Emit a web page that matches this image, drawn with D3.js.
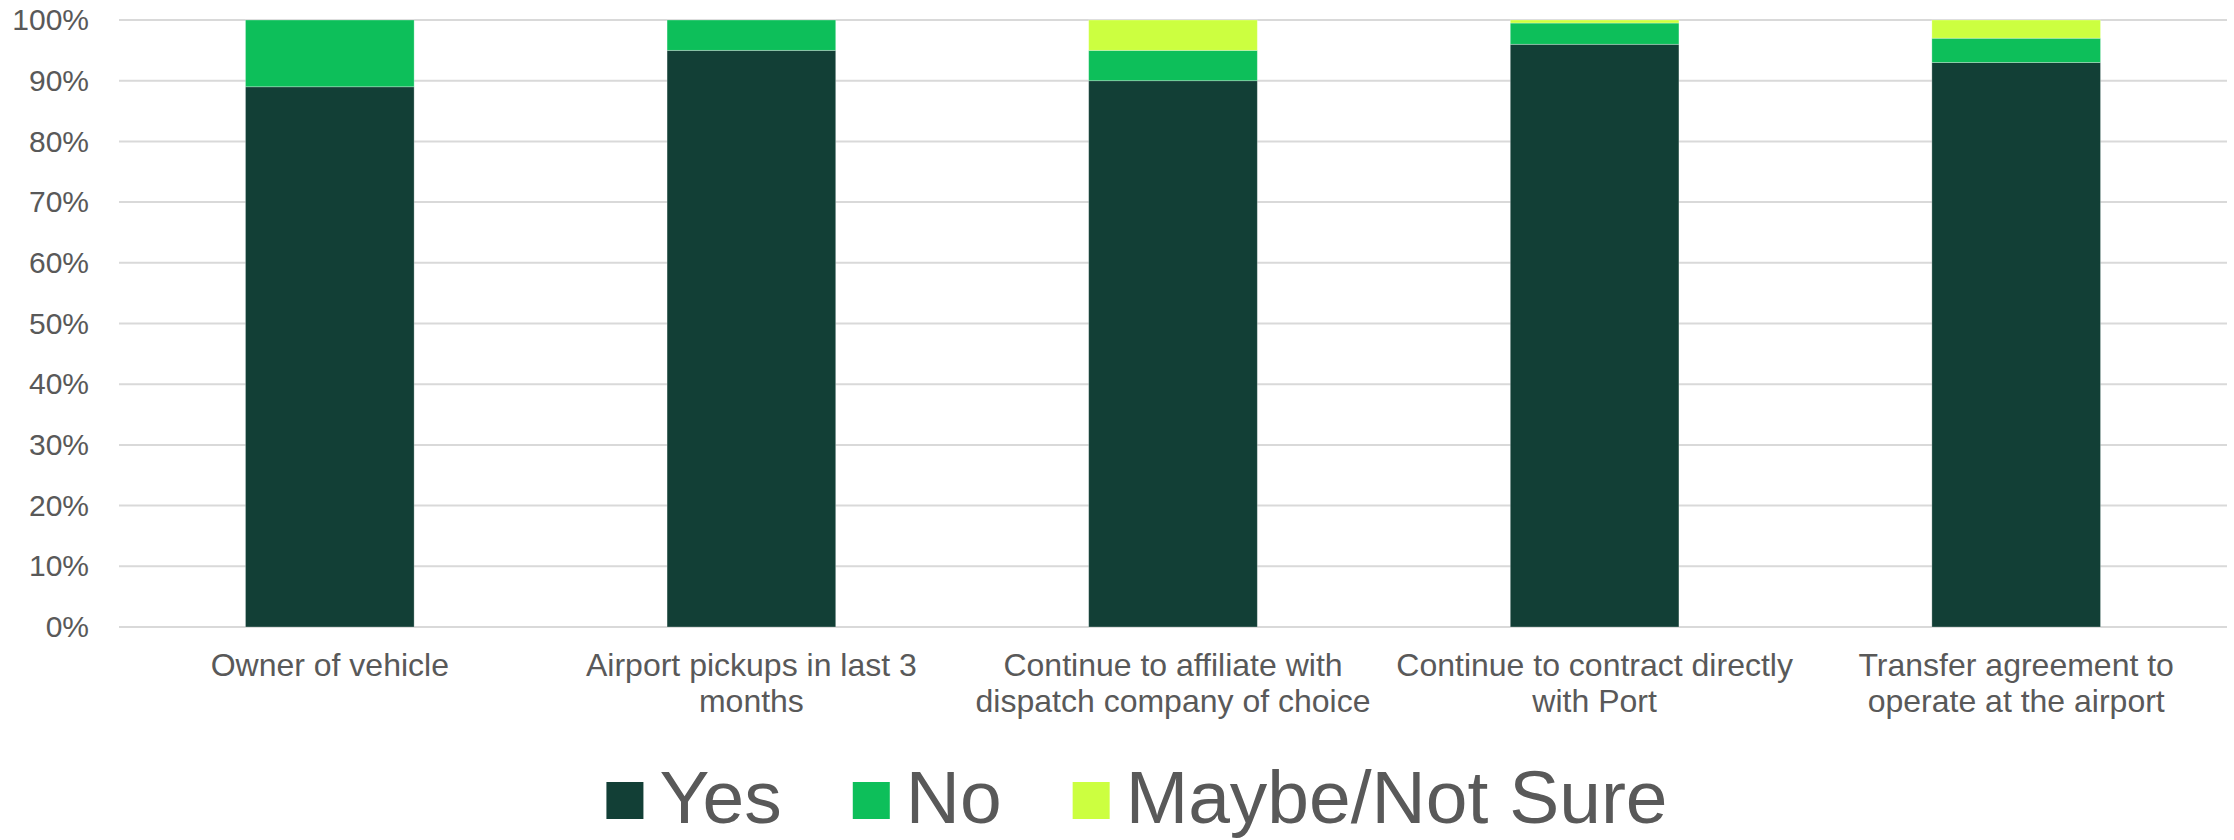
<!DOCTYPE html>
<html>
<head>
<meta charset="utf-8">
<script src="https://cdn.jsdelivr.net/npm/d3@7"></script>
<style>
  html, body { margin: 0; padding: 0; background: #ffffff; }
  svg { display: block; font-family: "Liberation Sans", Arial, sans-serif; }
</style>
</head>
<body>
<svg id="chart" width="2234" height="840"></svg>
<script>
// Survey questions (line breaks mark where each label wraps)
const categories = [
  "Owner of vehicle",
  "Airport pickups in last 3\nmonths",
  "Continue to affiliate with\ndispatch company of choice",
  "Continue to contract directly\nwith Port",
  "Transfer agreement to\noperate at the airport"
];
const seriesNames = ["Yes", "No", "Maybe/Not Sure"];
const yesValues   = [89, 95, 90, 96, 93];
const noValues    = [11, 5, 5, 3.5, 4];
const maybeValues = [0, 0, 5, 0.5, 3];
const yTicks = [0, 10, 20, 30, 40, 50, 60, 70, 80, 90, 100];
const colors = ["#123f36", "#0dbf5a", "#ccff40"];

const W = 2234, H = 840;
const margin = { top: 20, right: 7, bottom: 213, left: 119 };
const innerW = W - margin.left - margin.right;
const innerH = H - margin.top - margin.bottom;

const svg = d3.select("#chart");
const g = svg.append("g").attr("transform", `translate(${margin.left},${margin.top})`);

const x = d3.scaleBand().domain(categories).range([0, innerW]).padding(0);
const y = d3.scaleLinear().domain([0, 100]).range([innerH, 0]);
const barW = x.bandwidth() * 0.4;

// gridlines
g.append("g")
  .selectAll("line")
  .data(yTicks)
  .join("line")
  .attr("x1", 0).attr("x2", innerW)
  .attr("y1", d => y(d)).attr("y2", d => y(d))
  .attr("stroke", "#d9d9d9")
  .attr("stroke-width", 2);

// y axis labels
const yAxis = d3.axisLeft(y).tickValues(yTicks).tickFormat(d => d + "%").tickSize(0).tickPadding(30);
const ya = g.append("g").call(yAxis);
ya.select(".domain").remove();
ya.selectAll("text")
  .attr("fill", "#595959")
  .style("font-size", "30px")
  .style("font-family", "'Liberation Sans', Arial, sans-serif");

// stacked data
const rows = categories.map((c, i) => ({
  cat: c,
  "Yes": yesValues[i],
  "No": noValues[i],
  "Maybe/Not Sure": maybeValues[i]
}));
const stacked = d3.stack().keys(seriesNames)(rows);

g.append("g")
  .selectAll("g")
  .data(stacked)
  .join("g")
  .attr("fill", (d, i) => colors[i])
  .selectAll("rect")
  .data(d => d)
  .join("rect")
  .attr("x", d => x(d.data.cat) + (x.bandwidth() - barW) / 2)
  .attr("y", d => y(d[1]))
  .attr("width", barW)
  .attr("height", d => Math.max(0, y(d[0]) - y(d[1])))
  .attr("stroke", "rgba(255,255,255,0.35)")
  .attr("stroke-width", 0.8);

// x axis labels
const xAxis = d3.axisBottom(x).tickSize(0).tickFormat("");
const xa = g.append("g").attr("transform", `translate(0,${innerH})`).call(xAxis);
xa.select(".domain").remove();
xa.selectAll(".tick").each(function(d) {
  const t = d3.select(this).append("text")
    .attr("text-anchor", "middle")
    .attr("fill", "#595959")
    .style("font-size", "32px")
    .style("font-family", "'Liberation Sans', Arial, sans-serif");
  d.split("\n").forEach((line, i) => {
    t.append("tspan").attr("x", 0).attr("y", 49 + i * 36).text(line);
  });
});

// legend
const legendFont = 75;
const legendGap = 71;
const legend = svg.append("g").attr("transform", `translate(0, 823)`);
let cx = 0;
const items = legend.selectAll("g").data(seriesNames).join("g");
items.append("rect")
  .attr("y", -41)
  .attr("width", 37).attr("height", 37)
  .attr("fill", (d, i) => colors[i]);
items.append("text")
  .attr("x", 53)
  .attr("fill", "#595959")
  .style("font-size", legendFont + "px")
  .text(d => d);
items.each(function() {
  const w = this.getBBox().width;
  d3.select(this).attr("transform", `translate(${cx},0)`);
  cx += w + legendGap;
});
const totalW = cx - legendGap;
legend.attr("transform", `translate(${1137 - totalW / 2}, 823)`);
</script>
</body>
</html>
